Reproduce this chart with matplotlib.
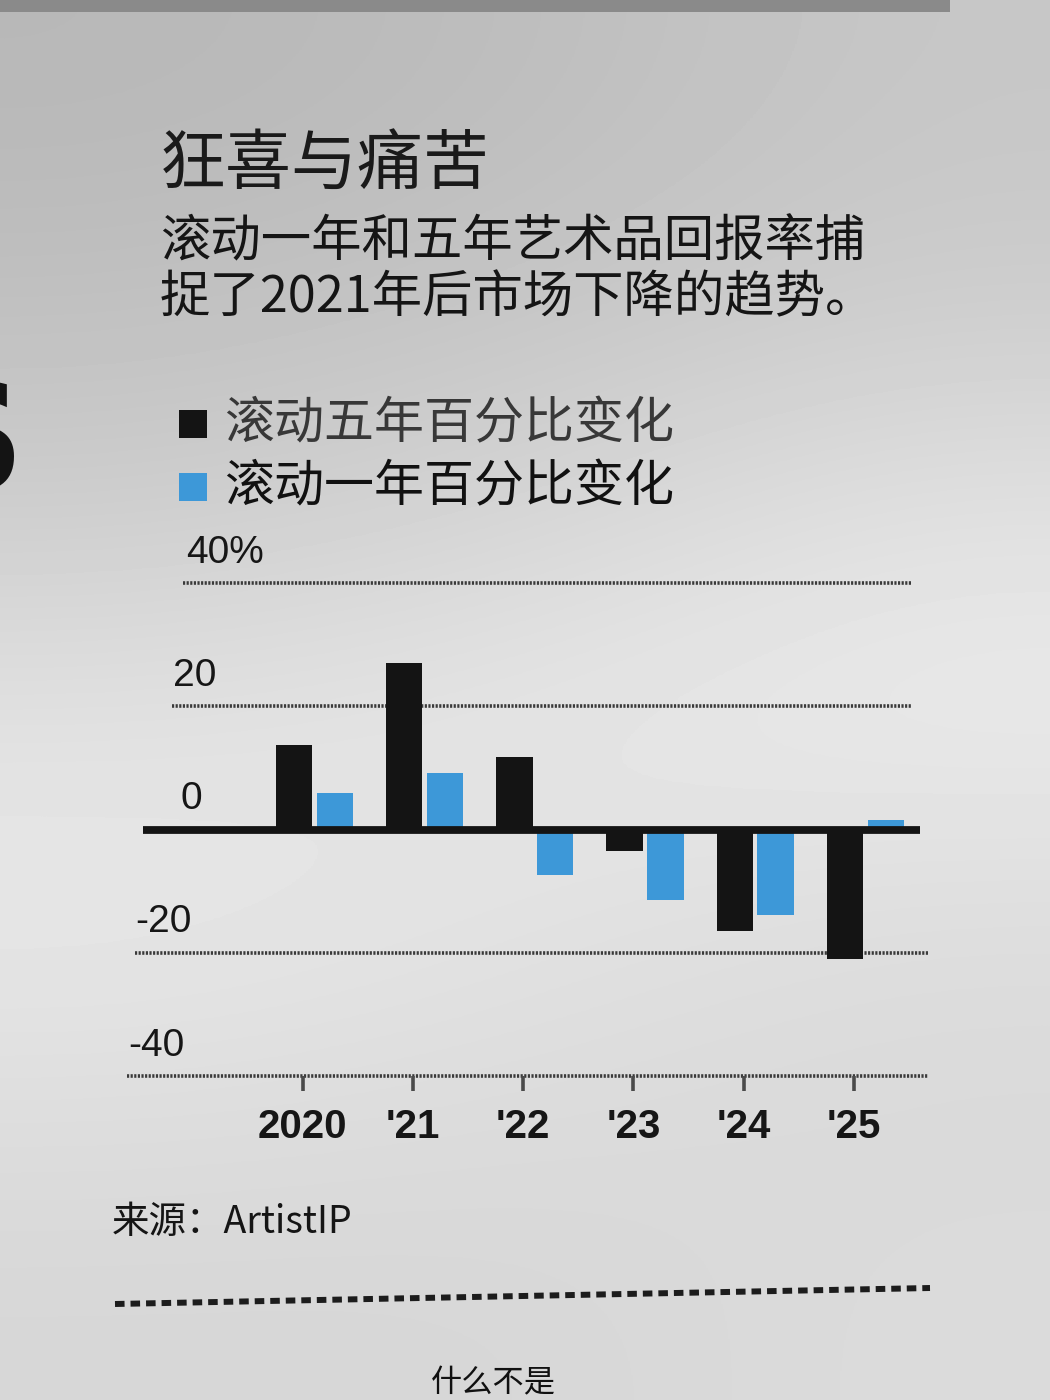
import numpy as np
import matplotlib
matplotlib.use("Agg")
import matplotlib.pyplot as plt
from matplotlib.patches import Rectangle
from matplotlib.lines import Line2D
from matplotlib.colors import LinearSegmentedColormap

# ---------------- data ----------------
years = [2020, 2021, 2022, 2023, 2024, 2025]
year_labels = ["2020", "'21", "'22", "'23", "'24", "'25"]
five_year = [13.8, 27.0, 11.7, -3.5, -16.5, -21.0]
one_year = [6.0, 9.1, -7.3, -11.5, -13.8, 1.5]
grid_values = [40, 20, -20, -40]
y_labels = ["40%", "20", "0", "-20", "-40"]
y_label_values = [40, 20, 0, -20, -40]

title = "狂喜与痛苦"
subtitle = ["滚动一年和五年艺术品回报率捕", "捉了2021年后市场下降的趋势。"]
legend_labels = ["滚动五年百分比变化", "滚动一年百分比变化"]
source = "来源：ArtistIP"
footer = "什么不是"

BLACK = "#141414"
BLUE = "#3d98d8"
CJK = ["Noto Sans CJK SC", "DejaVu Sans"]
NUM = ["Liberation Sans", "DejaVu Sans"]

W, H = 1050, 1400
fig = plt.figure(figsize=(W / 100, H / 100), dpi=100)


def fx(x):
    return x / W


def fy(y):
    return 1 - y / H


# ---------------- background (paper) ----------------
bg = fig.add_axes([0, 0, 1, 1], zorder=-10)
bg.axis("off")
levels = np.array([
    [0.72, 0.74, 0.78],
    [0.75, 0.77, 0.80],
    [0.80, 0.83, 0.88],
    [0.88, 0.90, 0.92],
    [0.91, 0.89, 0.87],
    [0.87, 0.86, 0.85],
    [0.84, 0.84, 0.86],
])
gray = LinearSegmentedColormap.from_list("g", ["black", "white"])
bg.imshow(levels, cmap=gray, vmin=0, vmax=1, aspect="auto",
          interpolation="bicubic", extent=[0, 1, 0, 1])
bg.set_xlim(0, 1)
bg.set_ylim(0, 1)
bg.add_patch(Rectangle((0, fy(12)), fx(950), 12 / H, color="#8a8a8a", lw=0))

# stray newspaper letter at left edge
fig.text(fx(24), fy(448), "S", fontsize=108, fontweight="bold", ha="right",
         va="center", color=BLACK, family="DejaVu Sans")

# ---------------- titles ----------------
fig.text(fx(160), fy(166), title, fontsize=47.5, family=CJK, color="#1a1a1a",
         ha="left", va="center")
for i, line in enumerate(subtitle):
    fig.text(fx(160), fy(242 + 56 * i), line, fontsize=36.3, family=CJK,
             color="#151515", ha="left", va="center")

# ---------------- legend ----------------
leg_colors = [BLACK, BLUE]
leg_text_colors = ["#383838", "#111111"]
for i, (lab, c, tc) in enumerate(zip(legend_labels, leg_colors, leg_text_colors)):
    yc = 424 + 63 * i
    fig.patches.append(Rectangle((fx(179), fy(yc + 14)), 28 / W, 28 / H,
                                 transform=fig.transFigure, color=c, lw=0))
    fig.text(fx(224), fy(yc), lab, fontsize=36, family=CJK, color=tc,
             ha="left", va="center")

# ---------------- chart ----------------
x0, x1 = 2018.55, 2025.6
ax = fig.add_axes([fx(143), fy(1076), 777 / W, (1076 - 570.75) / H])
ax.set_facecolor("none")
ax.set_xlim(x0, x1)
ax.set_ylim(-40, 42)
for s in ax.spines.values():
    s.set_visible(False)

width = 0.33
xs = np.array(years, dtype=float)
ax.bar(xs - 0.08, five_year, width=width, color=BLACK, zorder=3)
ax.bar(xs + 0.29, one_year, width=width, color=BLUE, zorder=3)

# gridlines (printed, textured look)
grid_extent = {40: (0.052, 0.99), 20: (0.037, 0.99), -20: (-0.01, 1.01), -40: (-0.02, 1.01)}
for v in grid_values:
    a, b = grid_extent[v]
    ax.hlines(v, x0 + a * (x1 - x0), x0 + b * (x1 - x0), colors="#3a3a3a",
              lw=2.6, linestyles=(0, (0.6, 0.4)), clip_on=False, zorder=1)

# zero line
ax.axhline(0, color=BLACK, lw=5.6, zorder=4)

# y labels sitting above their lines
label_x = {40: 0.055, 20: 0.038, 0: 0.048, -20: -0.01, -40: -0.019}
for lab, v in zip(y_labels, y_label_values):
    ax.text(x0 + label_x[v] * (x1 - x0), v + 3.3, lab, fontsize=28, family=NUM,
            color="#161616", ha="left", va="baseline", clip_on=False)

# x ticks
ax.set_xticks(years)
ax.set_xticklabels(year_labels, family=NUM, fontsize=29, color="#161616",
                   fontweight="bold")
ax.tick_params(axis="x", length=11, width=2.6, color="#4a4a4a", pad=12,
               direction="out")
ax.tick_params(axis="y", left=False, labelleft=False)

# ---------------- source & footer ----------------
fig.text(fx(112), fy(1222), source, fontsize=27, family=CJK, color="#151515",
         ha="left", va="center")
fig.lines.append(Line2D([fx(115), fx(930)], [fy(1304), fy(1288)],
                        transform=fig.transFigure, color="#1c1c1c", lw=4.3,
                        linestyle=(0, (1.6, 1.0)), dash_capstyle="butt"))
fig.text(fx(493), fy(1383), footer, fontsize=22.5, family=CJK, color="#111111",
         ha="center", va="center")

fig.savefig("out.png", dpi=100)
